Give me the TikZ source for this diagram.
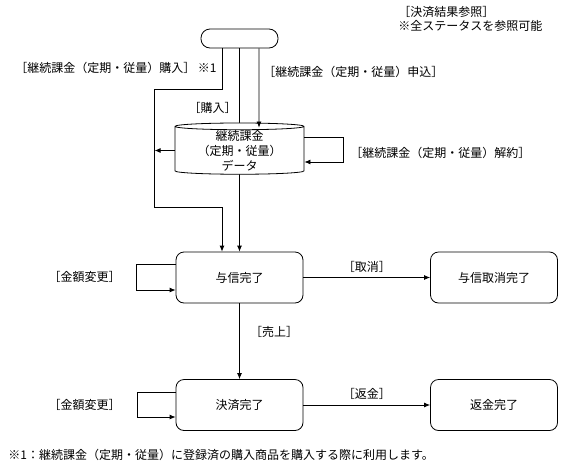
\documentclass[tikz,border=0pt]{standalone}
\usepackage{fontspec}
\setmainfont{Noto Sans CJK JP}
\usetikzlibrary{arrows.meta,positioning,shapes.geometric}

\begin{document}
\begin{tikzpicture}[
      x=1pt,y=-1pt,line width=0.8pt,
      >={Latex[length=6pt,width=5pt]},
      state/.style={draw,rounded corners=8pt,minimum width=127pt,minimum height=51pt,
                  align=center,font=\fontsize{12}{14}\selectfont},
      startbox/.style={draw,rounded corners=9pt,minimum width=77pt,minimum height=19pt},
      store/.style={draw,fill=white,cylinder,shape border rotate=90,aspect=0.08,
                  minimum width=129pt,minimum height=49pt,inner sep=0pt,align=center,
                  font=\fontsize{12}{15}\selectfont},
      note/.style={font=\fontsize{12}{14}\selectfont,inner sep=0pt}
    ]
    \useasboundingbox (0,0) rectangle (564,466);
    \node[startbox] (start) at (239.5,38.5) {};
    \node[state] (auth) at (239.5,277.5) {与信完了};
    \node[state] (cancel) at (494,277.5) {与信取消完了};
    \node[state] (settle) at (239.5,405) {決済完了};
    \node[state] (refund) at (494,405) {返金完了};
    % purchase line runs behind the data store
    \draw[->] (start.south) -- (auth.north);
    \node[store] (data) at (239.5,150.5) {継続課金\\（定期・従量）\\データ};
    \draw[->] ([xshift=-17.5pt]start.south) -- ++(0,41) -- ++(-67.5,0) -- ++(0,118)
      -| ([xshift=-17.5pt]auth.north);
    \draw[->] ([xshift=19.5pt]start.south) -- ([xshift=19.5pt,yshift=-5pt]data.north);
    \draw[->] (data.west) -- ++(-20,0);
    \draw[->] ([yshift=13.5pt]data.east) -- ++(39,0) -- ++(0,25) -- ([yshift=-11.5pt]data.east);
    \draw[->] ([yshift=13.5pt]auth.west) -- ++(-39,0) -- ++(0,26) -- ([yshift=-12.5pt]auth.west);
    \draw[->] ([yshift=13pt]settle.west) -- ++(-38,0) -- ++(0,25) -- ([yshift=-12pt]settle.west);
    \draw[->] (auth.east) -- (cancel.west) node[note,midway,above=5pt] (lblcancel) {［取消］};
    \draw[->] (auth.south) -- (settle.north);
    \draw[->] (settle.east) -- (refund.west) node[note,midway,above=5pt] (lblrefund) {［返金］};
    % labels
    \node[note,anchor=east] (lblbuy) at (217,68) {［継続課金（定期・従量）購入］ ※1};
    \node[note,anchor=west] (lblapply) at (263,72) {［継続課金（定期・従量）申込］};
    \node[note,anchor=east] (lblpurchase) at (237,108) {［購入］};
    \node[note,anchor=west] (lblterm) at (350,153) {［継続課金（定期・従量）解約］};
    \node[note,anchor=east] (lblamount) at (121,277) {［金額変更］};
    \node[note,anchor=east] (lblamount2) at (121,404.5) {［金額変更］};
    \node[note] (lblsales) at (274,332) {［売上］};
    \node[note,anchor=north west,align=left] (lblresult) at (398,6)
      {［決済結果参照］\\※全ステータスを参照可能};
    \node[note,anchor=west] (footnote) at (8,455)
      {※1：継続課金（定期・従量）に登録済の購入商品を購入する際に利用します。};
\end{tikzpicture}
\end{document}
